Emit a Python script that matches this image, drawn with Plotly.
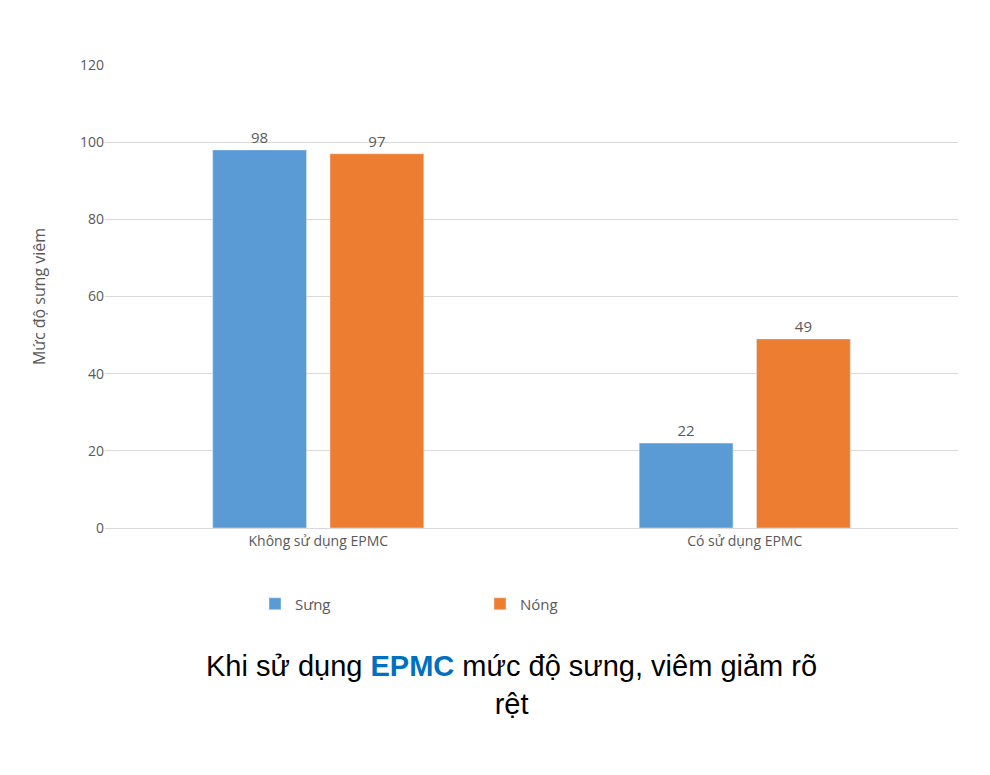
import plotly.graph_objects as go

categories = ["Không sử dụng EPMC", "Có sử dụng EPMC"]
sung = [98, 22]
nong = [97, 49]
y_ticks = [0, 20, 40, 60, 80, 100, 120]

W, H = 974, 759
L, R, T, B = 97, 24, 57, 239
pw, ph = W - L - R, H - T - B

fig = go.Figure()
fig.add_bar(name="Sưng", x=categories, y=sung, marker_color="#5B9BD5",
            text=sung, textposition="outside", textfont=dict(color="#595959", size=15))
fig.add_bar(name="Nóng", x=categories, y=nong, marker_color="#ED7D31",
            text=nong, textposition="outside", textfont=dict(color="#595959", size=15))

fig.update_layout(
    width=W, height=H, barmode="group", bargap=0.45, bargroupgap=0.2,
    paper_bgcolor="white", plot_bgcolor="white",
    margin=dict(l=L, r=R, t=T, b=B),
    font=dict(family="Open Sans", color="#595959", size=14),
    yaxis=dict(range=[0, 120], tickvals=y_ticks, gridcolor="#D9D9D9", zeroline=False,
               ticks="", ticklen=0, title=dict(text="Mức độ sưng viêm", font=dict(size=16), standoff=30)),
    xaxis=dict(showline=True, linecolor="#D9D9D9", ticks=""),
    legend=dict(orientation="h", x=(480 - 105) / pw, xanchor="center", y=-(604 - 528) / ph, yanchor="middle",
                font=dict(size=15), itemwidth=30, entrywidth=180, tracegroupgap=0),
    shapes=[dict(type="rect", xref="paper", yref="paper", x0=-(L + 6) / pw, x1=1 + (R + 14) / pw,
                 y0=-(B + 14) / ph, y1=1 + (T + 6) / ph, line=dict(color="#D0D0D0", width=3))],
    annotations=[dict(xref="paper", yref="paper", x=(511 - 105) / pw, y=-(685 - 528) / ph,
                      xanchor="center", yanchor="middle", showarrow=False,
                      font=dict(family="Liberation Sans", size=29, color="black"),
                      text="Khi sử dụng <b><span style='color:#0070C0'>EPMC</span></b> mức độ sưng, viêm giảm rõ<br>rệt")],
)
fig.write_html("out.html")
